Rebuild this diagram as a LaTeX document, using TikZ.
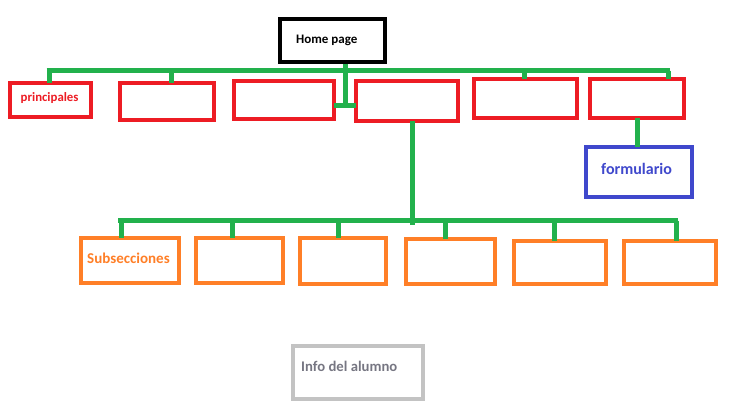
\documentclass[tikz,border=0pt]{standalone}
\usepackage{fontspec}
\setmainfont{Carlito}
\definecolor{pred}{RGB}{237,28,36}
\definecolor{pgreen}{RGB}{34,177,76}
\definecolor{porange}{RGB}{255,127,39}
\definecolor{pblue}{RGB}{63,72,204}
\definecolor{pgray}{RGB}{195,195,195}
\definecolor{ptext}{RGB}{118,118,130}
\begin{document}
\begin{tikzpicture}[x=1pt,y=-1pt,
  box/.style={draw=#1, line width=4.6pt, inner sep=0pt, outer sep=0pt, fill=white},
  lbl/.style={anchor=base west, inner sep=0pt, font=\bfseries},
  conn/.style={draw=pgreen, line width=5pt}]
\useasboundingbox (0,0) rectangle (731,410);
\coordinate (busA) at (0,70.5);
\coordinate (busB) at (0,220.5);
\coordinate (stub) at (345.5,105.5);
% boxes
\node[box=black, minimum width=105pt, minimum height=43pt] (home) at (332.5,40.5) {};
\node[box=pred, minimum width=81pt, minimum height=34pt] (r1) at (50.5,100) {};
\node[box=pred, minimum width=94pt, minimum height=37pt] (r2) at (167,101.5) {};
\node[box=pred, minimum width=100pt, minimum height=38pt] (r3) at (284,100) {};
\node[box=pred, minimum width=102pt, minimum height=40pt] (r4) at (407,101) {};
\node[box=pred, minimum width=103pt, minimum height=39pt] (r5) at (525.5,98.5) {};
\node[box=pred, minimum width=94pt, minimum height=39pt] (r6) at (637,98.5) {};
\node[box=pblue, minimum width=106pt, minimum height=50pt] (form) at (639,172) {};
\node[box=porange, minimum width=98pt, minimum height=45pt] (s1) at (130,260.5) {};
\node[box=porange, minimum width=87pt, minimum height=45pt] (s2) at (239.5,260.5) {};
\node[box=porange, minimum width=86pt, minimum height=46pt] (s3) at (343,261) {};
\node[box=porange, minimum width=89pt, minimum height=45pt] (s4) at (450.5,261.5) {};
\node[box=porange, minimum width=92pt, minimum height=43pt] (s5) at (560,262.5) {};
\node[box=porange, minimum width=92pt, minimum height=43pt] (s6) at (670,262.5) {};
\node[box=pgray, minimum width=130pt, minimum height=53pt] (info) at (358,372.5) {};
% labels
\node[lbl, font=\bfseries\fontsize{13}{15}\selectfont, text=black] (homet) at (296,43.5) {Home page};
\node[lbl, font=\bfseries\fontsize{12.8}{15}\selectfont, text=pred] (r1t) at (20.5,101.5) {principales};
\node[lbl, font=\bfseries\fontsize{16}{18}\selectfont, text=pblue] (formt) at (601,174.3) {formulario};
\node[lbl, font=\bfseries\fontsize{15}{17}\selectfont, text=porange] (s1t) at (87,263) {Subsecciones};
\node[lbl, font=\bfseries\fontsize{14.7}{17}\selectfont, text=ptext] (infot) at (301,371.7) {Info del alumno};
% connectors
\coordinate (a1) at ([xshift=-1.5pt]r1.north |- busA);
\coordinate (a2) at ([xshift=4pt]r2.north |- busA);
\coordinate (a5) at ([xshift=-1.5pt]r5.north |- busA);
\coordinate (a6) at ([xshift=31pt]r6.north |- busA);
\draw[conn] ([xshift=-2.5pt]a1) -- ([xshift=2pt]a6);
\draw[conn] (a1) -- (a1 |- r1.north);
\draw[conn] (a2) -- (a2 |- r2.north);
\draw[conn] (a5) -- (a5 |- r5.north);
\draw[conn] (a6) -- (a6 |- r6.north);
\draw[conn] ([yshift=-2.3pt]home.south -| stub) -- (stub);
\draw[conn] (r3.east |- stub) -- (r4.west |- stub);
\draw[conn] (r6.south) -- (r6.south |- form.north);
\coordinate (b1) at ([xshift=-9pt]s1.north |- busB);
\coordinate (b2) at ([xshift=-7.5pt]s2.north |- busB);
\coordinate (b3) at ([xshift=-5pt]s3.north |- busB);
\coordinate (b4) at ([xshift=-5.5pt]s4.north |- busB);
\coordinate (b5) at ([xshift=-6pt]s5.north |- busB);
\coordinate (b6) at ([xshift=6pt]s6.north |- busB);
\draw[conn] ([xshift=-3pt]b1) -- ([xshift=2pt]b6);
\draw[conn] ([xshift=5pt]r4.south) -- ([xshift=5pt,yshift=-4.5pt]r4.south |- busB);
\foreach \b/\s in {b1/s1,b2/s2,b3/s3,b4/s4,b5/s5,b6/s6}
  \draw[conn] (\b) -- (\b |- \s.north);
\end{tikzpicture}
\end{document}
